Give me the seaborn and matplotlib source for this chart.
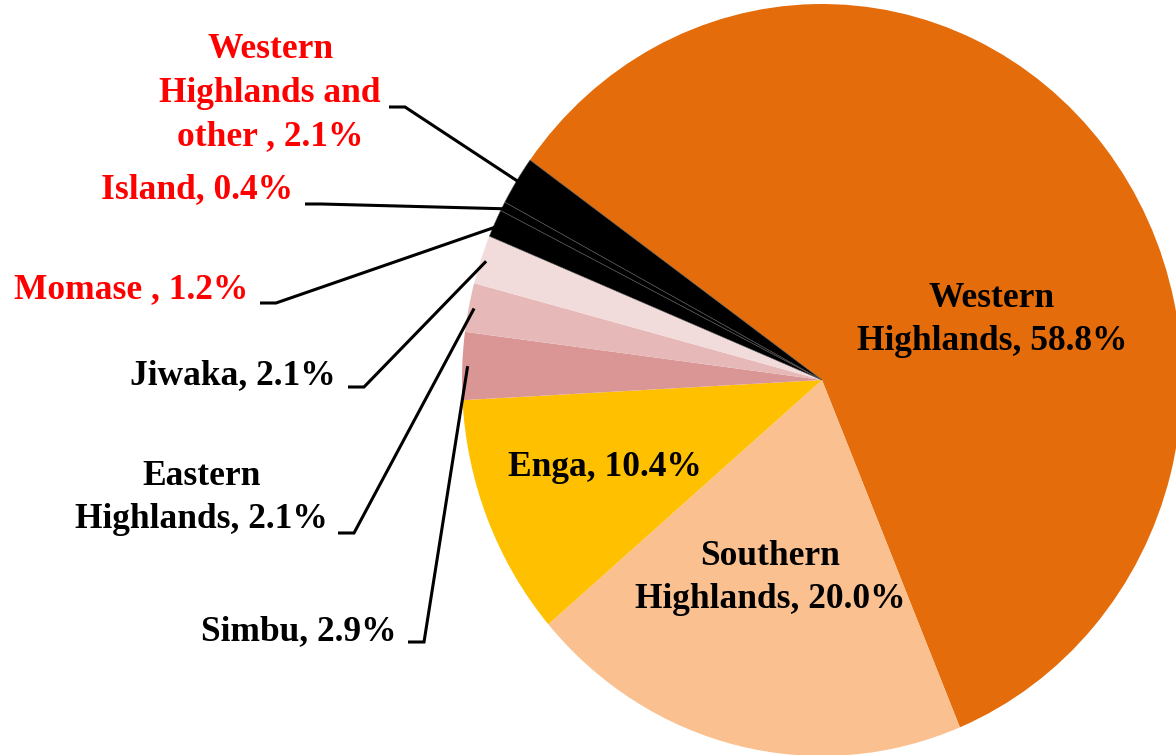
import numpy as np
import matplotlib.pyplot as plt
import seaborn as sns

# Данные: доля по регионам
regions = ["Western\nHighlands", "Southern\nHighlands", "Enga", "Simbu",
           "Eastern\nHighlands", "Jiwaka", "Momase ", "Island",
           "Western\nHighlands and\nother "]
shares = [58.8, 20.0, 10.4, 2.9, 2.1, 2.1, 1.2, 0.4, 2.1]
slice_colors = ["#E46C0A", "#FAC090", "#FFC000", "#D99694", "#E6B9B8",
                "#F2DCDB", "#000000", "#000000", "#000000"]
label_colors = ["black"] * 6 + ["#FF0000"] * 3

sns.set_theme(style="white")
plt.rcParams['font.family'] = ['Liberation Serif', 'DejaVu Serif']

# центр и радиусы круга в пикселях (картинка слегка растянута по вертикали)
CX, CY, RX, RY = 822, 380, 360, 376


def to_data(x, y):
    return (x - CX) / RX, (CY - y) / RY


fig = plt.figure(figsize=(11.76, 7.55), dpi=100)
ax = fig.add_axes([0, 0, 1, 1])

wedges, _ = ax.pie(shares, colors=sns.color_palette(slice_colors), startangle=144.2,
                   counterclock=False, wedgeprops=dict(linewidth=0))
for w, c in zip(wedges, slice_colors):
    if c == "#000000":
        w.set_edgecolor("#5a5a5a")
        w.set_linewidth(0.4)

ax.set_aspect('auto')
ax.set_xlim(-CX / RX, (1176 - CX) / RX)
ax.set_ylim((CY - 755) / RY, CY / RY)
ax.axis('off')

labels = [f"{r}, {v:.1f}%" for r, v in zip(regions, shares)]
font = dict(fontsize=25.5, fontweight='bold', linespacing=1.42)

# подписи внутри круга
inside_pos = [(992, 320), (770, 578), (605, 468)]
for i, (x, y) in enumerate(inside_pos):
    ax.text(*to_data(x, y), labels[i], ha='center', va='center',
            multialignment='center', color=label_colors[i], **font)

# подписи снаружи: (правый край текста, центр текста по y, y черточки, x начала черточки)
outside_pos = {3: (397, 632, 642, 408),
               4: (328, 498, 533, 338),
               5: (336, 376, 387, 348),
               6: (248, 290, 303, 260),
               7: (293, 190, 204, 305),
               8: (381, 93, 107, 389)}
for i, (tx, ty, ly, lx) in outside_pos.items():
    ax.text(*to_data(tx, ty), labels[i], ha='right', va='center',
            multialignment='center', color=label_colors[i], **font)
    w = wedges[i]
    ang = np.deg2rad((w.theta1 + w.theta2) / 2)
    ex, ey = 0.985 * np.cos(ang), 0.985 * np.sin(ang)
    x0, y0 = to_data(lx, ly)
    x1, _ = to_data(lx + 16, ly)
    ax.plot([x0, x1, ex], [y0, y0, ey], color='black', lw=2.2,
            solid_capstyle='butt', solid_joinstyle='miter')

fig.savefig('out.png', dpi=100)
